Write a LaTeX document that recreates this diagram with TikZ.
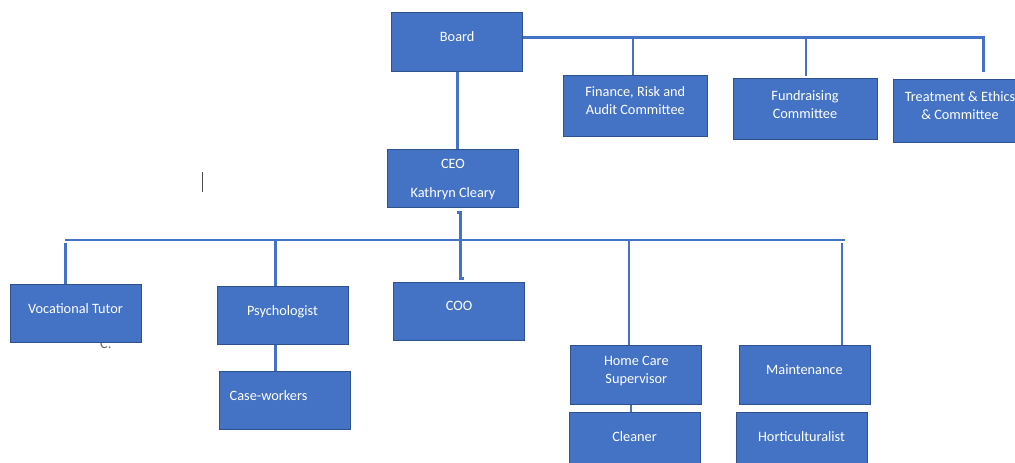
\documentclass[tikz,border=0pt]{standalone}
\usepackage{fontspec}
\setmainfont{Carlito}
\definecolor{boxblue}{HTML}{4472C4}
\definecolor{boxedge}{HTML}{2F528F}

\begin{document}
\begin{tikzpicture}[
    x=1pt, y=-1pt,
    font=\fontsize{14.3pt}{18.2pt}\selectfont,
    unit/.style={draw=boxedge, line width=0.9pt, fill=boxblue, text=white,
      align=center, minimum width=131pt, minimum height=58.5pt,
      inner sep=0pt, text depth=10pt},
    committee/.style={unit, minimum width=144pt, minimum height=61pt},
    link/.style={draw=boxblue, line width=2.6pt},
  ]
  \useasboundingbox (0,0) rectangle (1015,463);
  \clip (0,0) rectangle (1015,463);

  % stray marks of the original
  \node[text=black!60, anchor=base west, inner sep=0pt] (stray) at (100,348) {C.};
  \draw[black!70, line width=0.8pt] (202.5,172) -- (202.5,191.5);

  % board level
  \node[unit] (board) at (457.2,42) {Board};
  \node[committee] (finance) at (635.3,105.8) {Finance, Risk and\\Audit Committee};
  \node[committee] (fundraising) at (805,109.2) {Fundraising\\Committee};
  \node[committee, minimum width=134pt, minimum height=63pt] (treatment) at (960,110.5) {Treatment \& Ethics\\\& Committee};
  \node[unit, text depth=0pt] (ceo) at (453,178.2) {CEO\\[11.1pt]Kathryn Cleary};

  % staff level
  \node[unit] (voc) at (75.5,313.3) {Vocational Tutor};
  \node[unit] (psych) at (282.5,315.2) {Psychologist};
  \node[unit, text width=109.6pt, align=left, inner xsep=10.7pt] (case) at (284.5,400.2) {Case-workers};
  \node[unit] (coo) at (459,311.3) {COO};
  \node[unit] (home) at (636.3,374.8) {Home Care\\Supervisor};
  \node[unit] (maint) at (804.5,375) {Maintenance};
  \node[unit] (cleaner) at (634.5,442) {Cleaner};
  \node[unit] (hort) at (801.5,442) {Horticulturalist};

  % board lines
  \coordinate (boardbus) at (983.5,37.3);
  \draw[link] (board.east |- boardbus) -- (boardbus) -- (983.5,72);
  \foreach \drop/\stop in {633/75.3, 806/75.7}
    \draw[link] (\drop,37.3) -- (\drop,\stop);
  \draw[link] (board.south) -- (board.south |- ceo.north);

  % ceo line
  \draw[link] (456.7,212.3) -- ++(3.6,0) -- ++(0,66.4) -- ++(3.7,0);

  % staff lines
  \coordinate (staffwest) at (65.3,240);
  \coordinate (staffeast) at (845,240);
  \draw[link] (staffwest) -- (staffeast);
  \foreach \drop/\top/\unit in {65.3/243/voc, 275.7/240/psych, 629/240/home, 842/243/maint}
    \draw[link] (\drop,\top) -- (\drop,\top |- \unit.north);
  \draw[link] (275.7,0 |- psych.south) -- (275.7,0 |- case.north);
  \draw[link] (631,0 |- home.south) -- (631,0 |- cleaner.north);
\end{tikzpicture}
\end{document}
